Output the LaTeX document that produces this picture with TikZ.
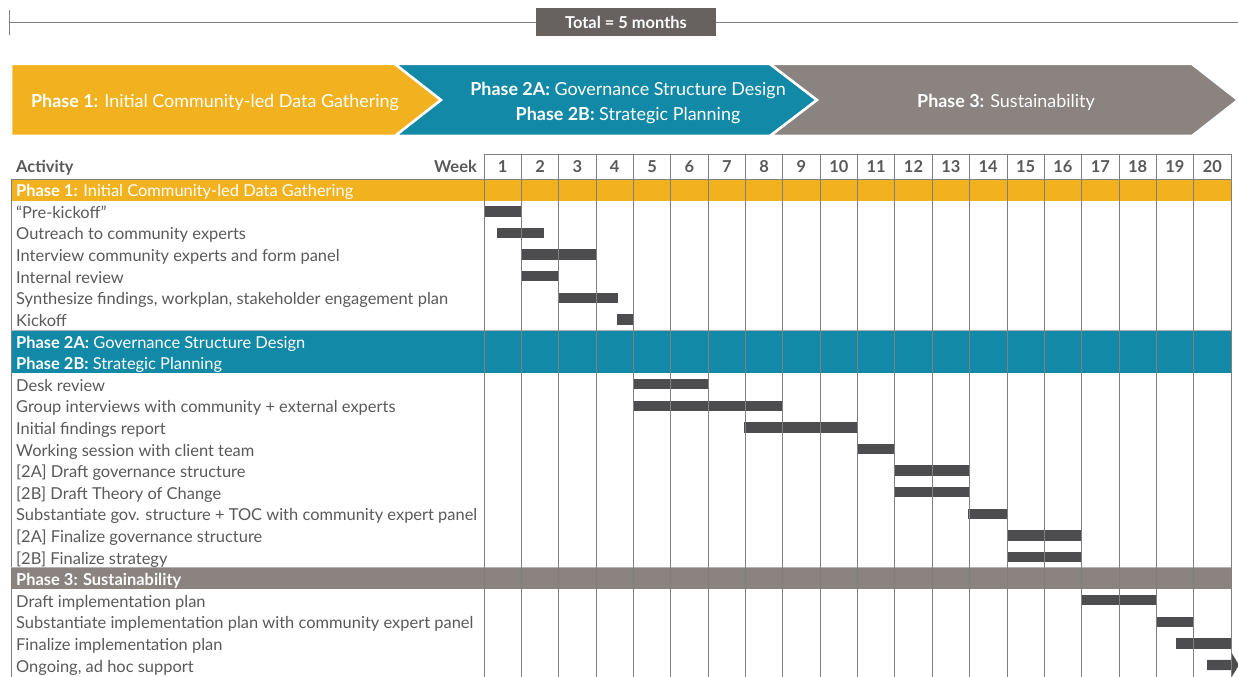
\documentclass[tikz,border=0pt]{standalone}
\usepackage{fontspec}
\setmainfont{Lato}

\definecolor{phaseone}{HTML}{F2B21F}
\definecolor{phasetwo}{HTML}{1289A7}
\definecolor{phasethree}{HTML}{8A8380}
\definecolor{barcol}{HTML}{4D4D4F}
\definecolor{txtgrey}{HTML}{595959}
\definecolor{gridgrey}{HTML}{7F7F7F}
\definecolor{totalgrey}{HTML}{67615F}

\begin{document}
\begin{tikzpicture}[x=1bp,y=-1bp,
  acttext/.style={anchor=base west,inner sep=0pt,text=txtgrey,font=\fontsize{16.5}{19}\selectfont},
  bandtext/.style={anchor=base west,inner sep=0pt,text=white,font=\fontsize{16.5}{19}\selectfont},
  chevtext/.style={text=white,align=center,font=\fontsize{18}{26}\selectfont},
  headtext/.style={inner sep=0pt,text=txtgrey,font=\bfseries\fontsize{16.5}{19}\selectfont},
  chevron/.style={draw=white,line width=2.5bp,line join=miter},
  gantt/.style={fill=barcol},
  gridline/.style={draw=gridgrey,line width=0.8bp}]
\useasboundingbox (0,0) rectangle (1238,677);

% Total duration
\coordinate (tstart) at (9,22);
\coordinate (tend) at (1238,22);
\node[fill=totalgrey,text=white,font=\bfseries\fontsize{16.5}{18}\selectfont,
  minimum width=180bp,minimum height=28bp,inner sep=0pt] (total) at (626,22) {Total = 5 months};
\draw[gridline] (9,10) -- (9,35);
\draw[gridline] (tstart) -- (total.west);
\draw[gridline] (total.east) -- (tend);

% Phase chevrons
\filldraw[chevron,fill=phaseone] (11,64) -- (395,64) -- (441,100) -- (395,136) -- (11,136) -- cycle;
\filldraw[chevron,fill=phasetwo] (395,64) -- (770,64) -- (817,100) -- (770,136) -- (395,136) -- (441,100) -- cycle;
\filldraw[chevron,fill=phasethree] (770,64) -- (1192,64) -- (1238,100) -- (1192,136) -- (770,136) -- (817,100) -- cycle;
\node[chevtext] (p1) at (215,102.5) {\textbf{Phase 1:} Initial Community-led Data Gathering};
\node[chevtext] (p2) at (628,103) {\textbf{Phase 2A:} Governance Structure Design\\\textbf{Phase 2B:} Strategic Planning};
\node[chevtext] (p3) at (1006,102.5) {\textbf{Phase 3:} Sustainability};

% Header row
\node[headtext,anchor=base west] (activity) at (16,172.5) {Activity};
\node[headtext,anchor=base east] (week) at (477,172.5) {Week};
\foreach \w in {1,...,20}
  \node[headtext,anchor=base] (w\w) at ({484+(\w-0.5)*37.35},172.5) {\w};

% Phase bands
\fill[phaseone] (11,179) rectangle (1231,{179+1*21.6});
\fill[phasetwo] (11,{179+7*21.6}) rectangle (1231,{179+9*21.6});
\fill[phasethree] (11,{179+18*21.6}) rectangle (1231,{179+19*21.6});
\node[bandtext] (band1) at (16,{179+0.5*21.6+7}) {\textbf{Phase 1:} Initial Community-led Data Gathering};
\node[bandtext] (band2a) at (16,{179+7.5*21.6+7}) {\textbf{Phase 2A:} Governance Structure Design};
\node[bandtext] (band2b) at (16,{179+8.5*21.6+7}) {\textbf{Phase 2B:} Strategic Planning};
\node[bandtext] (band3) at (16,{179+18.5*21.6+7}) {\textbf{Phase 3: Sustainability}};

% Activities
\foreach \r/\t in {1/{“Pre-kickoff”}, 2/{Outreach to community experts},
    3/{Interview community experts and form panel}, 4/{Internal review},
    5/{Synthesize findings, workplan, stakeholder engagement plan}, 6/{Kickoff},
    9/{Desk review}, 10/{Group interviews with community + external experts},
    11/{Initial findings report}, 12/{Working session with client team},
    13/{[2A] Draft governance structure}, 14/{[2B] Draft Theory of Change},
    15/{Substantiate gov. structure + TOC with community expert panel},
    16/{[2A] Finalize governance structure}, 17/{[2B] Finalize strategy},
    19/{Draft implementation plan},
    20/{Substantiate implementation plan with community expert panel},
    21/{Finalize implementation plan}, 22/{Ongoing, ad hoc support}}
  \node[acttext] (act\r) at (16,{179+(\r+0.5)*21.6+7}) {\t};

% Gantt bars (row / start week / end week)
\foreach \r/\s/\e in {1/0/1, 2/0.35/1.6, 3/1/3, 4/1/2, 5/1.97/3.58, 6/3.56/4,
    9/4/6, 10/4/8, 11/6.95/10, 12/10/11, 13/11/13, 14/11/13, 15/12.97/14,
    16/14/16, 17/14/16, 19/16/18, 20/18/19, 21/18.53/20}
  \fill[gantt] ({484+\s*37.35},{179+(\r+0.5)*21.6-5.2}) rectangle ({484+\e*37.35},{179+(\r+0.5)*21.6+5.2});
\fill[gantt] (1207,659.8) -- (1232,659.8) -- (1232,653.5) -- (1239,665) -- (1232,676.5) -- (1232,670.2) -- (1207,670.2) -- cycle;

% Grid
\draw[gridline] (484,154) -- (1231,154);
\draw[gridline] (11,179) -- (1231,179);
\draw[gridline] (11,179) -- (11,677);
\draw[gridline,draw=gridgrey!60] (11,{179+7*21.6}) -- (1231,{179+7*21.6});
\draw[gridline,draw=gridgrey!60] (11,{179+18*21.6}) -- (1231,{179+18*21.6});
\foreach \k in {0,...,20}
  \draw[gridline] ({484+\k*37.35},154) -- ({484+\k*37.35},677);
\end{tikzpicture}
\end{document}
